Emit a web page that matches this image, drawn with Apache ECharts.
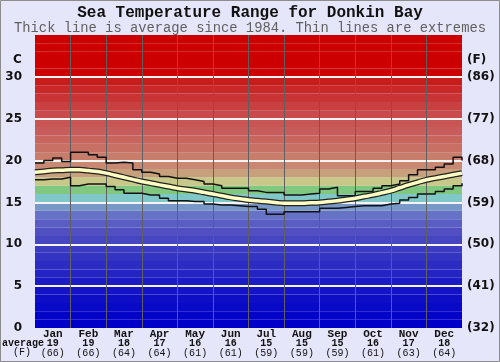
<!DOCTYPE html>
<html>
<head>
<meta charset="utf-8">
<script src="https://cdn.jsdelivr.net/npm/echarts@6/dist/echarts.min.js"></script>
<style>
  body { margin: 0; padding: 0; background: #e6e6fa; }
  #chart { width: 500px; height: 362px; }
</style>
</head>
<body>
<div id="chart"></div>
<script>
// months and the monthly average row under the axis
const monthNames = ['Jan', 'Feb', 'Mar', 'Apr', 'May', 'Jun', 'Jul', 'Aug', 'Sep', 'Oct', 'Nov', 'Dec']
const monthAvgC = [19, 19, 18, 17, 16, 16, 15, 15, 15, 16, 17, 18]
const monthAvgF = [66, 66, 64, 64, 61, 61, 59, 59, 59, 61, 63, 64]

// y ticks, celsius on the left and fahrenheit on the right
const tickC = [0, 5, 10, 15, 20, 25, 30]
const tickF = [32, 41, 50, 59, 68, 77, 86]

// sample positions through the year (in months, quarter month steps)
const yearPos = [0, 0.25, 0.5, 0.75, 1, 1.25, 1.5, 1.75, 2, 2.25, 2.5, 2.75, 3, 3.25, 3.5, 3.75,
  4, 4.25, 4.5, 4.75, 5, 5.25, 5.5, 5.75, 6, 6.25, 6.5, 6.75, 7, 7.25, 7.5, 7.75,
  8, 8.25, 8.5, 8.75, 9, 9.25, 9.5, 9.75, 10, 10.25, 10.5, 10.75, 11, 11.25, 11.5, 11.75, 12]

const maxTemp = [19.7, 20.0, 20.3, 19.9, 21.0, 21.0, 20.7, 20.4, 19.7, 19.8, 19.7, 18.9, 18.6, 18.4, 18.1, 17.9,
  17.9, 17.7, 17.5, 17.2, 17.0, 16.7, 16.7, 16.7, 16.4, 16.2, 16.2, 16.2, 15.9, 15.9, 16.0, 16.1,
  16.6, 16.8, 15.8, 15.8, 16.3, 16.3, 16.7, 17.0, 17.2, 17.6, 18.3, 18.9, 18.9, 19.2, 19.6, 20.4, 20.0]

const avgTemp = [18.6, 18.7, 18.8, 18.85, 18.9, 18.9, 18.8, 18.7, 18.5, 18.25, 18.0, 17.75, 17.5, 17.3, 17.1, 16.9,
  16.7, 16.55, 16.4, 16.2, 16.0, 15.8, 15.6, 15.45, 15.3, 15.2, 15.1, 15.0, 14.9, 14.9, 14.9, 14.95,
  15.0, 15.1, 15.2, 15.35, 15.5, 15.7, 15.9, 16.15, 16.4, 16.75, 17.1, 17.4, 17.7, 17.9, 18.1, 18.3, 18.5]

const minTemp = [17.7, 17.8, 17.8, 18.0, 17.0, 17.2, 17.2, 17.2, 16.9, 16.5, 16.1, 16.1, 15.9, 15.9, 15.5, 15.2,
  15.2, 15.1, 15.1, 14.8, 14.7, 14.7, 14.6, 14.5, 14.5, 14.2, 13.6, 13.6, 13.9, 13.9, 13.9, 13.9,
  14.3, 14.3, 14.4, 14.5, 14.6, 14.6, 14.6, 14.8, 14.9, 15.3, 15.6, 16.0, 16.0, 16.3, 16.6, 17.0, 17.3]

// one colour per degree band, 0-1 up to 34-35
const bandColors = [
  '#0000c8', '#0404c8', '#0909c8', '#0e0ec6', '#1414c6',
  '#1c1cc4', '#2424c4', '#2c2cc4', '#3434c2', '#3c3cc2',
  '#4646c2', '#5050c2', '#5a5ec4', '#6672c6', '#7898c8',
  '#80c8c8', '#80c880', '#c8c888', '#c8a07c', '#c88872',
  '#c87c6a', '#c87064', '#c8665e', '#c85c5a', '#c85454',
  '#c84a4a', '#c84040', '#c83434', '#c82828', '#c81c1c',
  '#cc0000', '#cc0000', '#cc0000', '#cc0000', '#cc0000'
]

const pair = arr => yearPos.map((p, i) => [p, arr[i]])

const bands = bandColors.map((c, i) => [
  { yAxis: i, itemStyle: { color: c } },
  { yAxis: i + 1 }
])
const hLines = tickC.filter(t => t > 0).map(t => ({
  yAxis: t, lineStyle: { color: '#f4f4f4', width: 2, type: 'solid' }
}))
const vLines = [1, 2, 3, 4, 5, 6, 7, 8, 9, 10, 11].map(m => ({
  xAxis: m, lineStyle: { color: '#606060', width: 1, type: 'solid' }
}))

const chart = echarts.init(document.getElementById('chart'))
const monoFont = '"Liberation Mono", "Courier New", monospace'
const sansFont = '"DejaVu Sans", Verdana, sans-serif'

const option = {
  backgroundColor: '#e6e6fa',
  animation: false,
  title: [
    {
      text: 'Sea Temperature Range for Donkin Bay',
      left: 'center',
      top: 5,
      padding: 0,
      textStyle: { fontFamily: monoFont, fontSize: 16, fontWeight: 'bold', color: '#111', lineHeight: 16 }
    },
    {
      text: 'Thick line is average since 1984. Thin lines are extremes',
      left: 'center',
      top: 21,
      padding: 0,
      textStyle: { fontFamily: monoFont, fontSize: 13.8, fontWeight: 'normal', color: '#606060', lineHeight: 14 }
    }
  ],
  graphic: [
    { type: 'rect', shape: { x: 0.5, y: 0.5, width: 499, height: 361 }, style: { fill: 'none', stroke: '#8c8c8c', lineWidth: 1 }, z: 100 },
    { type: 'text', left: 13, top: 54, style: { text: 'C', font: 'bold 12px "DejaVu Sans"', fill: '#111' } },
    { type: 'text', left: 467, top: 54, style: { text: '(F)', font: 'bold 12px "DejaVu Sans"', fill: '#111' } },
    { type: 'text', left: 2, top: 338, style: { text: 'average', font: 'bold 10px "Liberation Mono"', fill: '#111' } },
    { type: 'text', left: 13, top: 347, style: { text: '(F)', font: '10px "Liberation Mono"', fill: '#111' } }
  ],
  grid: { left: 35, top: 35, width: 427, height: 293, containLabel: false },
  xAxis: [
    {
      type: 'value',
      min: 0,
      max: 12,
      interval: 1,
      show: false
    },
    {
      type: 'category',
      data: monthNames,
      position: 'bottom',
      axisLine: { show: false },
      axisTick: { show: false },
      splitLine: { show: false },
      axisLabel: {
        margin: 1,
        interval: 0,
        formatter: (v, i) => '{m|' + v + '}\n{c|' + monthAvgC[i] + '}\n{f|(' + monthAvgF[i] + ')}',
        rich: {
          m: { fontFamily: monoFont, fontSize: 11, fontWeight: 'bold', color: '#111', lineHeight: 10 },
          c: { fontFamily: monoFont, fontSize: 10, fontWeight: 'bold', color: '#111', lineHeight: 9.5 },
          f: { fontFamily: monoFont, fontSize: 10, color: '#111', lineHeight: 9.5 }
        }
      }
    }
  ],
  yAxis: [
    {
      type: 'value',
      min: 0,
      max: 35,
      interval: 5,
      position: 'left',
      axisLine: { show: false },
      axisTick: { show: false },
      splitLine: { show: false },
      axisLabel: {
        margin: 13,
        fontFamily: sansFont,
        fontSize: 12,
        fontWeight: 'bold',
        color: '#111',
        formatter: v => (tickC.indexOf(v) >= 0 ? String(v) : '')
      }
    },
    {
      type: 'value',
      min: 0,
      max: 35,
      interval: 5,
      position: 'right',
      axisLine: { show: false },
      axisTick: { show: false },
      splitLine: { show: false },
      axisLabel: {
        margin: 5,
        fontFamily: sansFont,
        fontSize: 12,
        fontWeight: 'bold',
        color: '#111',
        formatter: v => {
          const i = tickC.indexOf(v)
          return i >= 0 ? '(' + tickF[i] + ')' : ''
        }
      }
    }
  ],
  series: [
    {
      name: 'background',
      type: 'line',
      xAxisIndex: 0,
      yAxisIndex: 0,
      data: [[0, 0]],
      showSymbol: false,
      lineStyle: { opacity: 0 },
      silent: true,
      z: 1,
      markArea: { silent: true, z: 1, data: bands },
      markLine: { silent: true, z: 1.5, symbol: 'none', label: { show: false }, data: hLines.concat(vLines) }
    },
    {
      name: 'max',
      type: 'line',
      xAxisIndex: 0,
      yAxisIndex: 0,
      step: 'end',
      data: pair(maxTemp),
      showSymbol: false,
      lineStyle: { color: '#111', width: 1.5 },
      z: 3
    },
    {
      name: 'min',
      type: 'line',
      xAxisIndex: 0,
      yAxisIndex: 0,
      step: 'end',
      data: pair(minTemp),
      showSymbol: false,
      lineStyle: { color: '#111', width: 1.5 },
      z: 3
    },
    {
      name: 'avgOutline',
      type: 'line',
      xAxisIndex: 0,
      yAxisIndex: 0,
      smooth: true,
      data: pair(avgTemp),
      showSymbol: false,
      lineStyle: { color: '#222', width: 6 },
      z: 4
    },
    {
      name: 'avg',
      type: 'line',
      xAxisIndex: 0,
      yAxisIndex: 0,
      smooth: true,
      data: pair(avgTemp),
      showSymbol: false,
      lineStyle: { color: '#ffffc4', width: 3.5 },
      z: 5
    }
  ]
}
chart.setOption(option)
</script>
</body>
</html>
